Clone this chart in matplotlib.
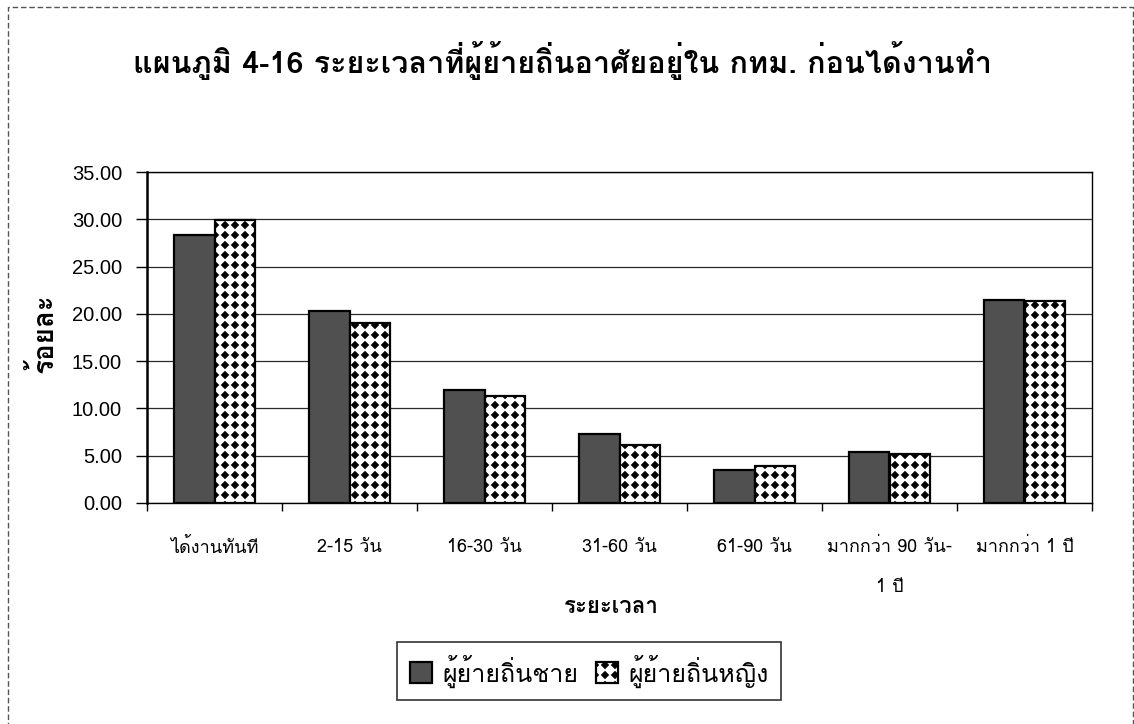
import warnings
import numpy as np
import matplotlib
matplotlib.use("Agg")
import matplotlib.pyplot as plt
from matplotlib import font_manager, ft2font, hatch
from matplotlib.path import Path
from matplotlib.patches import Rectangle

warnings.filterwarnings("ignore")

CATEGORIES = ["ได้งานทันที", "2-15 วัน", "16-30 วัน", "31-60 วัน", "61-90 วัน",
              "มากกว่า 90 วัน-\n1 ปี", "มากกว่า 1 ปี"]
MALE = [28.3, 20.3, 12.0, 7.3, 3.5, 5.4, 21.5]
FEMALE = [29.9, 19.0, 11.3, 6.1, 3.9, 5.2, 21.4]
SERIES_NAMES = ["ผู้ย้ายถิ่นชาย", "ผู้ย้ายถิ่นหญิง"]
Y_TICKS = [0, 5, 10, 15, 20, 25, 30, 35]


def find_thai_font():
    # first installed family that actually has Thai glyphs
    for entry in font_manager.fontManager.ttflist:
        try:
            cmap = ft2font.FT2Font(entry.fname).get_charmap()
        except Exception:
            continue
        if 0x0E01 in cmap and 0x0E49 in cmap:
            return entry.name
    return "DejaVu Sans"


class DiamondGrid(hatch.HatchPatternBase):
    # square grid of filled diamonds, like the old Excel pattern fill
    def __init__(self, hatchpattern, density):
        self.per_unit = hatchpattern.count("d") * 10
        self.num_vertices = self.per_unit ** 2 * 5

    def set_vertices_and_codes(self, vertices, codes):
        n = self.per_unit
        r = 0.38 / n
        shape = np.array([[0, -r], [r, 0], [0, r], [-r, 0], [0, -r]])
        shape_codes = [Path.MOVETO, Path.LINETO, Path.LINETO, Path.LINETO, Path.CLOSEPOLY]
        parts, code_parts = [], []
        for i in range(n):
            for j in range(n):
                parts.append(shape + [(i + 0.5) / n, (j + 0.5) / n])
                code_parts.append(shape_codes)
        vertices[:] = np.concatenate(parts)
        codes[:] = np.concatenate(code_parts)


hatch._hatch_types.append(DiamondGrid)


def main():
    thai = find_thai_font()
    fam = [thai, "Liberation Sans", "DejaVu Sans"]
    plt.rcParams["font.family"] = fam
    plt.rcParams["hatch.linewidth"] = 0.4
    plt.rcParams["hatch.color"] = "black"

    fig = plt.figure(figsize=(11.34, 7.24), dpi=100)
    fig.patch.set_facecolor("white")
    ax = fig.add_axes([147 / 1134, 1 - 503 / 724, 945 / 1134, 331 / 724])

    x = np.arange(len(CATEGORIES))
    w = 0.30
    ax.bar(x - w / 2, MALE, w, color="#505050", edgecolor="black", linewidth=1.6,
           label=SERIES_NAMES[0], zorder=3)
    ax.bar(x + w / 2, FEMALE, w, color="white", edgecolor="black", linewidth=1.6,
           hatch="d", label=SERIES_NAMES[1], zorder=3)

    ax.set_xlim(-0.5, len(CATEGORIES) - 0.5)
    ax.set_ylim(0, 35)
    ax.set_yticks(Y_TICKS)
    ax.set_yticklabels([f"{v:.2f}" for v in Y_TICKS], family=["Liberation Sans", "DejaVu Sans"],
                       fontsize=14.5)
    ax.tick_params(axis="y", direction="out", length=8, width=1, pad=10)
    ax.yaxis.grid(True, color="#2a2a2a", linewidth=0.9, zorder=0)

    ax.set_xticks(x)
    ax.set_xticklabels(CATEGORIES, fontsize=13, linespacing=2.55)
    ax.set_xticks(np.arange(len(CATEGORIES) + 1) - 0.5, minor=True)
    ax.tick_params(axis="x", which="major", length=0, pad=25)
    ax.tick_params(axis="x", which="minor", direction="out", length=6, width=1)

    for side in ["top", "right", "bottom"]:
        ax.spines[side].set_linewidth(1.0)
        ax.spines[side].set_color("black")
    ax.spines["left"].set_linewidth(1.8)

    fig.text(562 / 1134, 1 - 61 / 724,
             "แผนภูมิ 4-16 ระยะเวลาที่ผู้ย้ายถิ่นอาศัยอยู่ใน กทม. ก่อนได้งานทำ",
             ha="center", va="center", fontsize=22, fontweight="bold")
    fig.text(43 / 1134, 1 - 333 / 724, "ร้อยละ", rotation=90, ha="center", va="center",
             fontsize=20, fontweight="bold")
    fig.text(611 / 1134, 1 - 607 / 724, "ระยะเวลา", ha="center", va="center",
             fontsize=16, fontweight="bold")

    leg = fig.legend(loc="center", bbox_to_anchor=(589 / 1134, 1 - 671 / 724), ncol=2,
                     fontsize=18, frameon=True, fancybox=False, edgecolor="black",
                     handlelength=0.9, handleheight=0.9, handletextpad=0.4,
                     columnspacing=0.7, borderpad=0.5)
    leg.get_frame().set_linewidth(1.2)

    # dashed chart-area border that runs off the bottom of the scan
    fig.patches.append(Rectangle((8 / 1134, -0.05), 1125 / 1134, 1.05 - 7 / 724,
                                 transform=fig.transFigure, fill=False,
                                 edgecolor="#555555", linewidth=1.0, linestyle=(0, (4, 2))))

    fig.savefig("out.png", dpi=100)


if __name__ == "__main__":
    main()
